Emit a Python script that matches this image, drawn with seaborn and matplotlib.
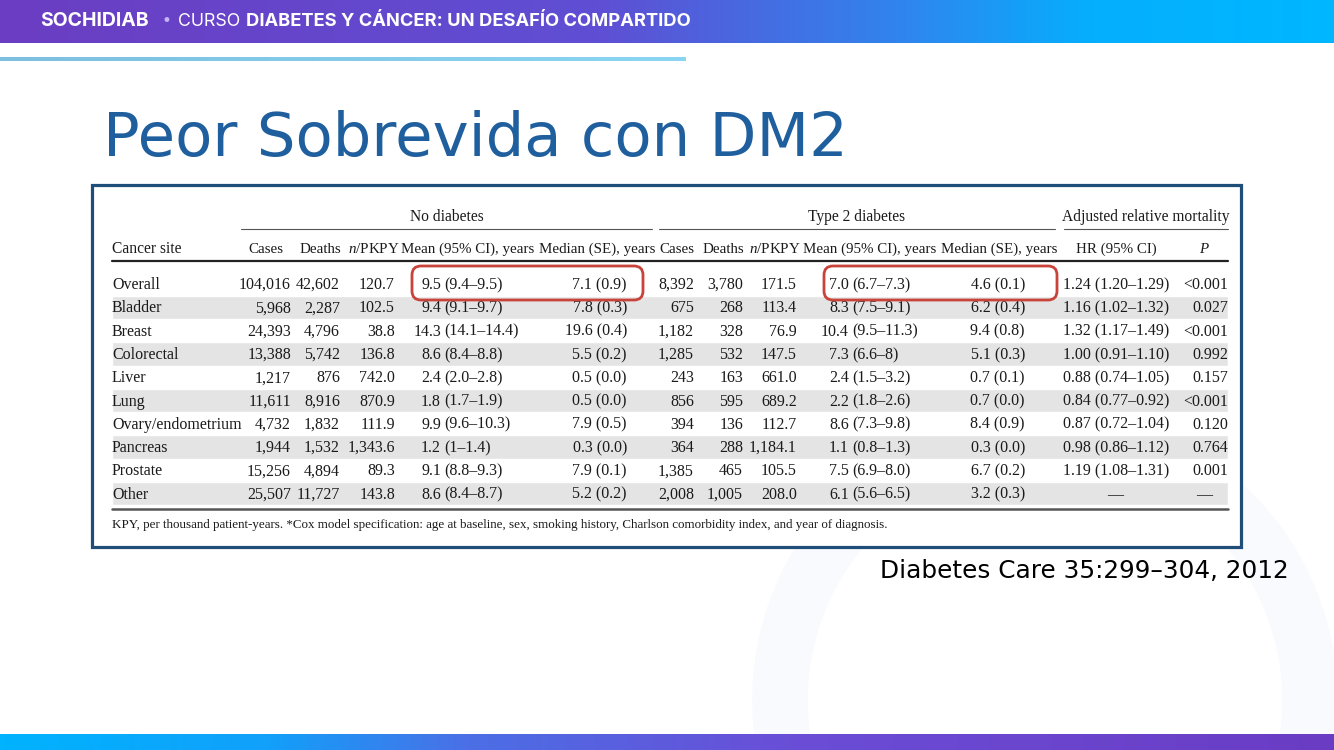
import numpy as np
import matplotlib.pyplot as plt
import seaborn as sns
from matplotlib.colors import LinearSegmentedColormap
from matplotlib.patches import FancyBboxPatch, Rectangle, Circle

# table content
sites = ["Overall", "Bladder", "Breast", "Colorectal", "Liver", "Lung",
         "Ovary/endometrium", "Pancreas", "Prostate", "Other"]
nd_cases = ["104,016", "5,968", "24,393", "13,388", "1,217", "11,611", "4,732", "1,944", "15,256", "25,507"]
nd_deaths = ["42,602", "2,287", "4,796", "5,742", "876", "8,916", "1,832", "1,532", "4,894", "11,727"]
nd_pkpy = ["120.7", "102.5", "38.8", "136.8", "742.0", "870.9", "111.9", "1,343.6", "89.3", "143.8"]
nd_mean = ["9.5 (9.4–9.5)", "9.4 (9.1–9.7)", "14.3 (14.1–14.4)", "8.6 (8.4–8.8)", "2.4 (2.0–2.8)",
           "1.8 (1.7–1.9)", "9.9 (9.6–10.3)", "1.2 (1–1.4)", "9.1 (8.8–9.3)", "8.6 (8.4–8.7)"]
nd_median = ["7.1 (0.9)", "7.8 (0.3)", "19.6 (0.4)", "5.5 (0.2)", "0.5 (0.0)",
             "0.5 (0.0)", "7.9 (0.5)", "0.3 (0.0)", "7.9 (0.1)", "5.2 (0.2)"]
t2_cases = ["8,392", "675", "1,182", "1,285", "243", "856", "394", "364", "1,385", "2,008"]
t2_deaths = ["3,780", "268", "328", "532", "163", "595", "136", "288", "465", "1,005"]
t2_pkpy = ["171.5", "113.4", "76.9", "147.5", "661.0", "689.2", "112.7", "1,184.1", "105.5", "208.0"]
t2_mean = ["7.0 (6.7–7.3)", "8.3 (7.5–9.1)", "10.4 (9.5–11.3)", "7.3 (6.6–8)", "2.4 (1.5–3.2)",
           "2.2 (1.8–2.6)", "8.6 (7.3–9.8)", "1.1 (0.8–1.3)", "7.5 (6.9–8.0)", "6.1 (5.6–6.5)"]
t2_median = ["4.6 (0.1)", "6.2 (0.4)", "9.4 (0.8)", "5.1 (0.3)", "0.7 (0.1)",
             "0.7 (0.0)", "8.4 (0.9)", "0.3 (0.0)", "6.7 (0.2)", "3.2 (0.3)"]
hr = ["1.24 (1.20–1.29)", "1.16 (1.02–1.32)", "1.32 (1.17–1.49)", "1.00 (0.91–1.10)", "0.88 (0.74–1.05)",
      "0.84 (0.77–0.92)", "0.87 (0.72–1.04)", "0.98 (0.86–1.12)", "1.19 (1.08–1.31)", "—"]
p_vals = ["<0.001", "0.027", "<0.001", "0.992", "0.157", "<0.001", "0.120", "0.764", "0.001", "—"]

group_labels = ["No diabetes", "Type 2 diabetes", "Adjusted relative mortality"]
col_labels = ["Cancer site", "Cases", "Deaths", r"$\mathit{n}$/PKPY", "Mean (95% CI), years",
              "Median (SE), years", "Cases", "Deaths", r"$\mathit{n}$/PKPY", "Mean (95% CI), years",
              "Median (SE), years", "HR (95% CI)", "P"]
footnote = ("KPY, per thousand patient-years. *Cox model specification: age at baseline, sex, "
            "smoking history, Charlson comorbidity index, and year of diagnosis.")

sns.set_theme(style="white")
plt.rcParams['font.family'] = ['DejaVu Sans']
plt.rcParams['mathtext.fontset'] = 'custom'
plt.rcParams['mathtext.rm'] = 'Liberation Serif'
plt.rcParams['mathtext.it'] = 'Liberation Serif:italic'

fig = plt.figure(figsize=(13.34, 7.5), dpi=100)
ax = fig.add_axes([0, 0, 1, 1])

# header / footer gradient bars
top_cmap = LinearSegmentedColormap.from_list(
    "top", [(0, "#6b3dc2"), (0.45, "#5f4fd4"), (0.68, "#2f86ee"), (0.82, "#05affd"), (1, "#00b7ff")])
bot_cmap = LinearSegmentedColormap.from_list(
    "bot", [(0, "#00b3ff"), (0.2, "#12a0fa"), (0.35, "#4b6fe6"), (0.6, "#6b4dd6"), (1, "#6a3cc4")])
line_cmap = LinearSegmentedColormap.from_list("line", ["#7dbfe0", "#8ad6f2"])
grad = np.linspace(0, 1, 512)[None, :]
ax.imshow(grad, cmap=top_cmap, extent=(0, 1334, 43, 0), aspect='auto', zorder=1)
ax.imshow(grad, cmap=bot_cmap, extent=(0, 1334, 750, 734), aspect='auto', zorder=1)
ax.imshow(grad, cmap=line_cmap, extent=(0, 686, 61, 57), aspect='auto', zorder=1)

# faint watermark ring
ax.add_patch(Circle((1045, 700), 265, fill=False, ec="#f8fafd", lw=40, zorder=0))

ax.text(40, 21, "SOCHIDIAB", family="Inter", weight="bold", fontsize=14, color="white", va="center")
ax.text(161, 21, "•", family="DejaVu Sans", fontsize=12, color="#c7b2f6", va="center")
ax.text(178, 21, "CURSO", family="Inter", fontsize=12.8, color="white", va="center")
ax.text(246, 21, "DIABETES Y CÁNCER: UN DESAFÍO COMPARTIDO", family="Inter", weight="bold",
        fontsize=13.2, color="white", va="center")

ax.text(103, 156, "Peor Sobrevida con DM2", fontsize=43.8, color="#1f5f9e", va="baseline")

# table frame
ax.add_patch(Rectangle((92, 185), 1149, 362, fc="white", ec="#1f4e79", lw=2.3, zorder=2))

serif = "Liberation Serif"
fs = 11.5
hfs = 10.8
ink = "#1a1a1a"


def txt(x, y, s, ha="left", size=fs, **kw):
    ax.text(x, y, s, ha=ha, va="baseline", fontsize=size, family=serif, color=ink, zorder=4, **kw)


# group headers and rules
for label, x0, x1 in zip(group_labels, [241, 659, 1064], [652, 1055, 1228]):
    txt((x0 + x1) / 2, 221, label, ha="center", size=hfs + 0.4)
    ax.plot([x0, x1], [229, 229], color="#555555", lw=0.8, zorder=4)

col_x = [112, 266, 320, 374, 468, 597, 677, 723, 775, 870, 999, 1116, 1204]
for i, (label, x) in enumerate(zip(col_labels, col_x)):
    if i == 0:
        txt(x, 253, label, size=hfs + 0.4)
    elif label == "P":
        txt(x, 253, label, ha="center", style="italic", size=hfs)
    else:
        txt(x, 253, label, ha="center", size=hfs)
ax.plot([112, 1228], [261, 261], color="#222222", lw=1.6, zorder=4)

row_h = 23.3
row_y = 284 + row_h * np.arange(len(sites))
shaded = row_y[1::2]
ax.barh(shaded, 1228 - 112, left=112, height=row_h, color="#e4e4e4", zorder=3)


def split_ci(s):
    num, rest = s.split(" ", 1)
    return num, rest


for i, yc in enumerate(row_y):
    yb = yc + 5
    txt(112, yb, sites[i])
    txt(291, yb, nd_cases[i], ha="right")
    txt(340, yb, nd_deaths[i], ha="right")
    txt(395, yb, nd_pkpy[i], ha="right")
    a, b = split_ci(nd_mean[i])
    txt(441, yb, a, ha="right")
    txt(444, yb, b)
    txt(627, yb, nd_median[i], ha="right")
    txt(694, yb, t2_cases[i], ha="right")
    txt(743, yb, t2_deaths[i], ha="right")
    txt(797, yb, t2_pkpy[i], ha="right")
    a, b = split_ci(t2_mean[i])
    txt(849, yb, a, ha="right")
    txt(852, yb, b)
    txt(1025, yb, t2_median[i], ha="right")
    if hr[i] == "—":
        txt(1115, yb, hr[i], ha="center")
    else:
        txt(1063, yb, hr[i])
    if p_vals[i] == "—":
        txt(1204, yb, p_vals[i], ha="center")
    else:
        txt(1228, yb, p_vals[i], ha="right")

ax.plot([112, 1228], [509, 509], color="#555555", lw=1.8, zorder=4)
txt(112, 528, footnote, size=9.4)

# highlight boxes
for x0, x1 in [(412, 643), (824, 1057)]:
    ax.add_patch(FancyBboxPatch((x0, 266), x1 - x0, 34, boxstyle="round,pad=0,rounding_size=9",
                                fill=False, ec="#c8433a", lw=2, zorder=5))

ax.text(1289, 578, "Diabetes Care 35:299–304, 2012", ha="right", va="baseline",
        fontsize=17.8, color="black")

ax.set_xlim(0, 1334)
ax.set_ylim(750, 0)
ax.axis("off")
fig.savefig("out.png", dpi=100)
